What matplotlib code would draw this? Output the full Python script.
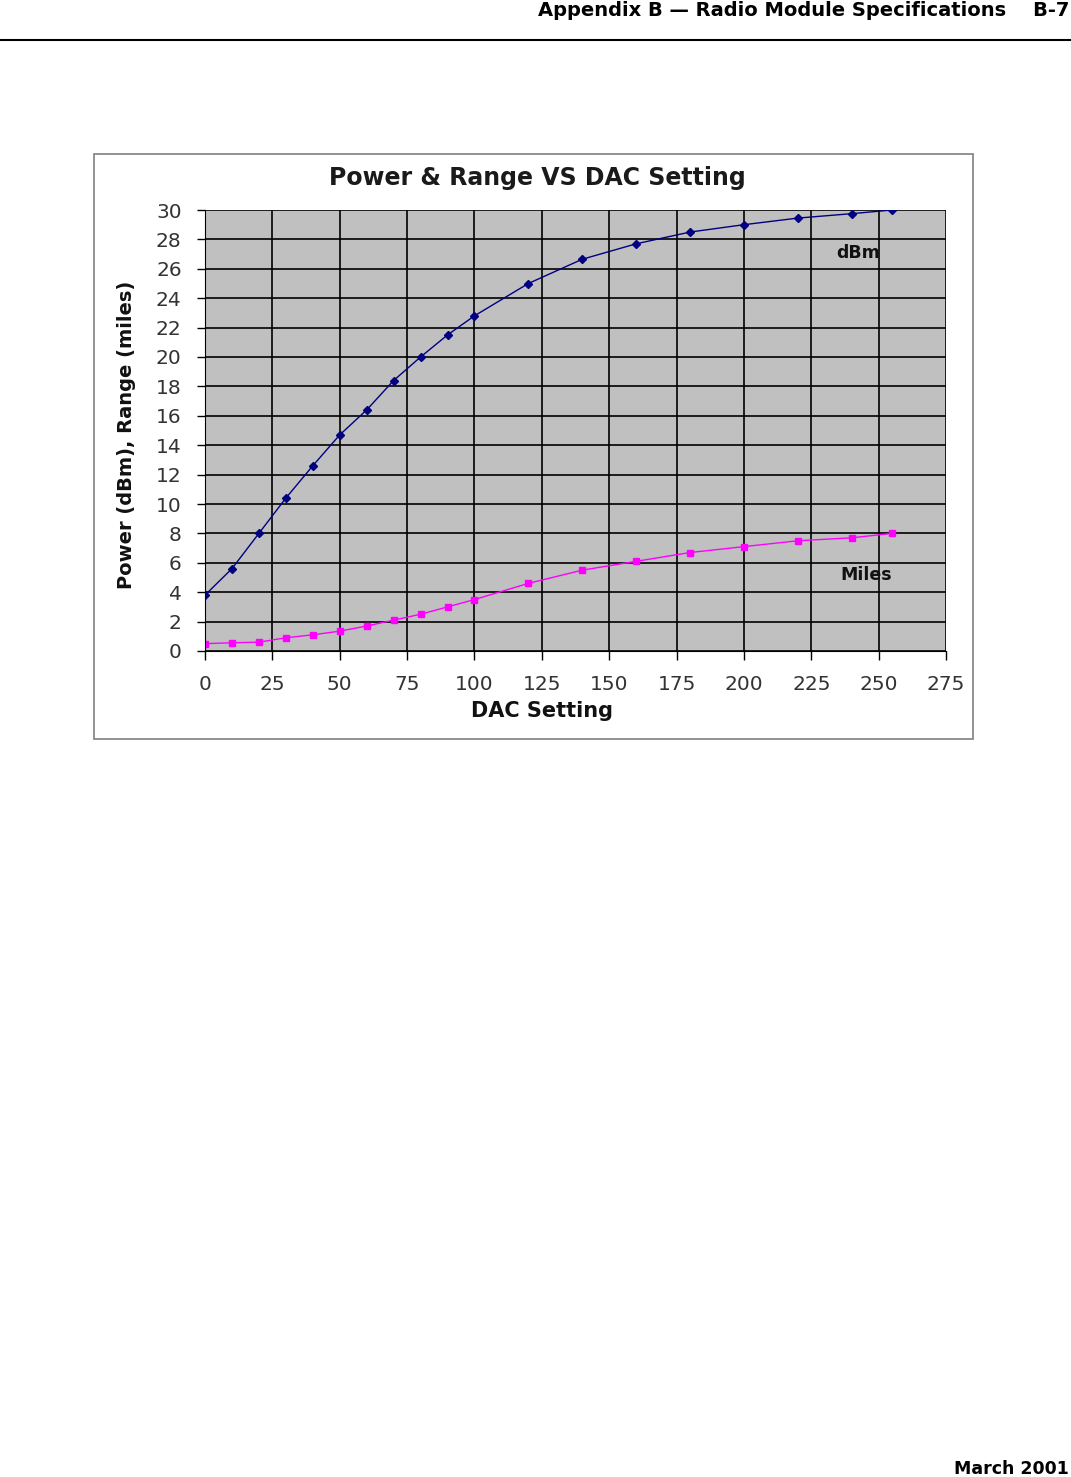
import matplotlib
matplotlib.use("Agg")
import matplotlib.pyplot as plt
from matplotlib.patches import Rectangle
from matplotlib.lines import Line2D

dac = [0, 10, 20, 30, 40, 50, 60, 70, 80, 90, 100, 120, 140, 160, 180, 200, 220, 240, 255]
dbm = [3.8, 5.6, 8.0, 10.4, 12.6, 14.7, 16.4, 18.4, 20.0, 21.5, 22.8, 25.0, 26.65, 27.7, 28.5, 29.0, 29.45, 29.75, 30.0]
miles = [0.5, 0.56, 0.6, 0.9, 1.1, 1.35, 1.7, 2.1, 2.5, 3.0, 3.5, 4.6, 5.5, 6.1, 6.7, 7.1, 7.5, 7.7, 8.0]
xticks = list(range(0, 276, 25))
yticks = list(range(0, 31, 2))

W, H = 1071, 1477
fig = plt.figure(figsize=(W / 100, H / 100), dpi=100)
fig.patch.set_facecolor("white")

# page header / footer
fig.text(1069 / W, 1 - 10 / H, "Appendix B \u2014 Radio Module Specifications    B-7",
         ha="right", va="center", fontsize=14, fontweight="bold", family="DejaVu Sans")
fig.add_artist(Line2D([0, 1], [1 - 40 / H, 1 - 40 / H], color="black", lw=1.5,
                      transform=fig.transFigure))
fig.text(1069 / W, 1 - 1469 / H, "March 2001", ha="right", va="center",
         fontsize=12.5, fontweight="bold", family="DejaVu Sans")

# chart frame
fig.add_artist(Rectangle((94 / W, 1 - 739 / H), 879 / W, 585 / H, transform=fig.transFigure,
                         facecolor="white", edgecolor="#7f7f7f", lw=1.2, zorder=0))

ax = fig.add_axes([205 / W, 1 - 651 / H, 741 / W, 441 / H])
ax.set_facecolor("#c0c0c0")
ax.set_xlim(0, 275)
ax.set_ylim(0, 30)
ax.set_xticks(xticks)
ax.set_yticks(yticks)
ax.grid(True, color="black", lw=1.2)
ax.set_axisbelow(True)
for s in ["top", "right"]:
    ax.spines[s].set_visible(False)
ax.spines["left"].set_color("black")
ax.spines["bottom"].set_color("black")
ax.tick_params(axis="both", direction="out", width=1, labelsize=14.5,
               colors="black", labelcolor="#333333")
ax.tick_params(axis="x", length=6.5, pad=10.5)
ax.tick_params(axis="y", length=5.8, pad=11)

ax.plot(dac, dbm, color="#000080", lw=1, marker="D", ms=4.5, mfc="#000080", mec="#000080")
ax.plot(dac, miles, color="#ff00ff", lw=1, marker="s", ms=5, mfc="#ff00ff", mec="#ff00ff")

ax.text(242.3, 27.1, "dBm", ha="center", va="center", fontsize=12.5, fontweight="bold",
        color="#111111")
ax.text(245.3, 5.2, "Miles", ha="center", va="center", fontsize=12.5, fontweight="bold",
        color="#111111")

fig.text(542 / W, 1 - 711 / H, "DAC Setting", ha="center", va="center",
         fontsize=15, fontweight="bold", color="#111111")
fig.text(126 / W, 1 - 435 / H, "Power (dBm), Range (miles)", ha="center", va="center",
         rotation=90, fontsize=14, fontweight="bold", color="#111111")
fig.text(537 / W, 1 - 178 / H, "Power & Range VS DAC Setting", ha="center", va="center",
         fontsize=17, fontweight="bold", color="#1a1a1a")

fig.savefig("out.png", dpi=100)
